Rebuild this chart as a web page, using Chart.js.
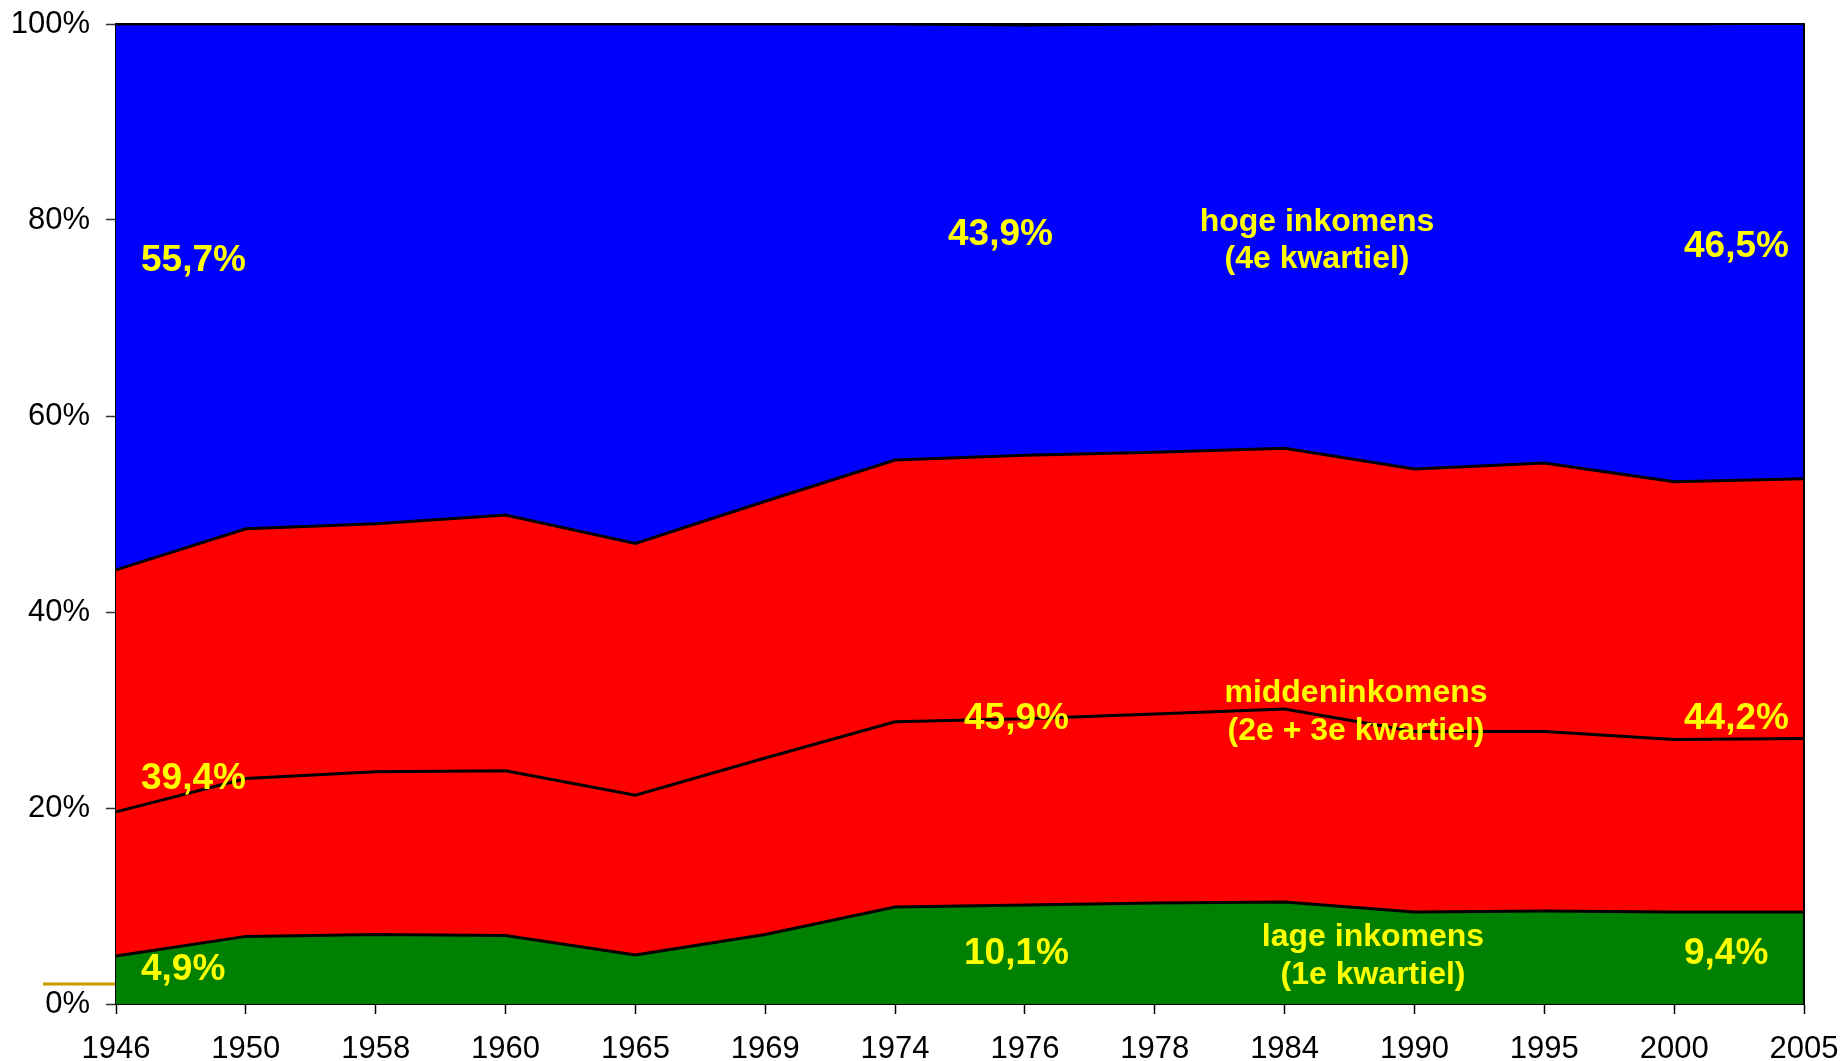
<!DOCTYPE html>
<html>
<head>
<meta charset="utf-8">
<script src="https://cdn.jsdelivr.net/npm/chart.js@4.4.1/dist/chart.umd.min.js"></script>
<style>
  html, body { margin: 0; padding: 0; background: #ffffff; }
  #wrap { width: 1845px; height: 1061px; }
</style>
</head>
<body>
<div id="wrap"><canvas id="c" width="1845" height="1061"></canvas></div>
<script>
// ---- data ----
const years = ['1946','1950','1958','1960','1965','1969','1974','1976','1978','1984','1990','1995','2000','2005'];
const q1 = [4.9, 6.9, 7.1, 7.0, 5.0, 7.1, 9.9, 10.1, 10.3, 10.4, 9.4, 9.5, 9.4, 9.4];       // 1e kwartiel
const q2 = [14.7, 16.1, 16.6, 16.8, 16.3, 18.0, 18.9, 19.0, 19.3, 19.7, 18.4, 18.3, 17.6, 17.7]; // 2e kwartiel
const q3 = [24.7, 25.5, 25.3, 26.1, 25.7, 26.2, 26.7, 26.9, 26.7, 26.6, 26.8, 27.4, 26.3, 26.5]; // 3e kwartiel
const q4 = [55.7, 51.5, 51.0, 50.1, 53.0, 48.7, 44.5, 43.9, 43.7, 43.3, 45.4, 44.8, 46.7, 46.5]; // 4e kwartiel
const yTicks = [0, 20, 40, 60, 80, 100];
const groupNames = {
  high: ['hoge inkomens', '(4e kwartiel)'],
  mid: ['middeninkomens', '(2e + 3e kwartiel)'],
  low: ['lage inkomens', '(1e kwartiel)']
};
const labelIdx = [0, 7, 13];

const FONT = '"Liberation Sans", Arial, sans-serif';
const fmt = v => v.toFixed(1).replace('.', ',') + '%';
const mid = q2.map((v, i) => Math.round((v + q3[i]) * 10) / 10);

const overlay = {
  id: 'overlay',
  afterDatasetsDraw(chart) {
    const ctx = chart.ctx;
    const a = chart.chartArea;
    ctx.save();
    // plot border top/right
    ctx.strokeStyle = '#000';
    ctx.lineWidth = 2;
    ctx.beginPath();
    ctx.moveTo(a.left, a.top);
    ctx.lineTo(a.right, a.top);
    ctx.lineTo(a.right, a.bottom);
    ctx.stroke();
    // little golden stroke near 0%
    ctx.strokeStyle = '#cc9900';
    ctx.lineWidth = 3;
    ctx.beginPath();
    ctx.moveTo(43, 984);
    ctx.lineTo(a.left - 1, 984);
    ctx.stroke();

    ctx.fillStyle = '#ffff00';
    // percentage labels
    ctx.font = 'bold 37px ' + FONT;
    ctx.textAlign = 'left';
    ctx.textBaseline = 'middle';
    const xs = [141, 948, 1684];
    const xsLow = [141, 964, 1684];
    const yHigh = [261, 235, 247];
    const yMid = [779, 719, 719];
    const yLow = [970, 954, 954];
    labelIdx.forEach((idx, k) => {
      ctx.fillText(fmt(q4[idx]), xs[k], yHigh[k]);
      ctx.fillText(fmt(mid[idx]), xsLow[k], yMid[k]);
      ctx.fillText(fmt(q1[idx]), xsLow[k], yLow[k]);
    });
    // group names
    ctx.font = 'bold 32px ' + FONT;
    ctx.textAlign = 'center';
    ctx.fillText(groupNames.high[0], 1317, 222);
    ctx.fillText(groupNames.high[1], 1317, 259);
    ctx.fillText(groupNames.mid[0], 1356, 693);
    ctx.fillText(groupNames.mid[1], 1356, 731);
    ctx.fillText(groupNames.low[0], 1373, 937);
    ctx.fillText(groupNames.low[1], 1373, 975);
    ctx.restore();
  }
};

const common = { pointRadius: 0, borderColor: '#000000', borderWidth: 3, tension: 0 };

new Chart(document.getElementById('c'), {
  type: 'line',
  data: {
    labels: years,
    datasets: [
      Object.assign({ label: '1e kwartiel', data: q1, backgroundColor: '#008000', fill: 'origin' }, common),
      Object.assign({ label: '2e kwartiel', data: q2, backgroundColor: '#ff0000', fill: '-1' }, common),
      Object.assign({ label: '3e kwartiel', data: q3, backgroundColor: '#ff0000', fill: '-1' }, common),
      Object.assign({ label: '4e kwartiel', data: q4, backgroundColor: '#0000ff', fill: '-1' }, common)
    ]
  },
  options: {
    responsive: false,
    animation: false,
    layout: { padding: { top: 24, right: 41, left: 0, bottom: 0 } },
    plugins: { legend: { display: false }, tooltip: { enabled: false } },
    scales: {
      x: {
        type: 'category',
        offset: false,
        grid: { display: true, drawOnChartArea: false, drawTicks: true, tickLength: 10, tickColor: '#000', tickWidth: 1.5 },
        border: { display: true, color: '#000', width: 2 },
        ticks: { color: '#000', font: { family: FONT, size: 31 }, padding: 17, maxRotation: 0, autoSkip: false },
        afterFit: s => { s.height = 57; s.paddingLeft = 0; s.paddingRight = 0; }
      },
      y: {
        stacked: true,
        min: 0,
        max: 100,
        afterBuildTicks: s => { s.ticks = yTicks.map(v => ({ value: v })); },
        grid: { display: true, drawOnChartArea: false, drawTicks: true, tickLength: 10, tickColor: '#333', tickWidth: 1.5 },
        border: { display: true, color: '#000', width: 2 },
        ticks: { color: '#000', font: { family: FONT, size: 31 }, padding: 16, callback: v => v + '%' },
        afterFit: s => { s.width = 116; s.paddingTop = 0; s.paddingBottom = 0; }
      }
    }
  },
  plugins: [overlay]
});
</script>
</body>
</html>
